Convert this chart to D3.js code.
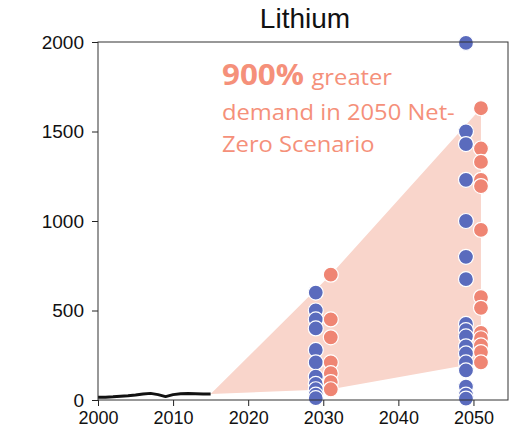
<!DOCTYPE html>
<html>
<head>
<meta charset="utf-8">
<script src="https://cdn.jsdelivr.net/npm/d3@7"></script>
<style>
  body { margin: 0; background: #fff; }
  text { font-family: "Liberation Sans", Arial, sans-serif; }
  text.note { font-family: "Open Sans", sans-serif; }
</style>
</head>
<body>
<svg id="chart" width="512" height="432"></svg>
<script>
// Historical lithium demand (2000–2015)
const historyYears = [2000, 2001, 2002, 2003, 2004, 2005, 2006, 2007, 2008, 2009, 2010, 2011, 2012, 2013, 2014, 2015];
const historyDemand = [15, 16, 18, 21, 24, 28, 33, 37, 30, 19, 30, 35, 37, 35, 33, 33];

// Scenario projections: blue = other scenarios, red = Net-Zero scenarios
const projectionYears = [2030, 2050];
const otherScenarios2030 = [600, 500, 450, 400, 280, 210, 130, 90, 60, 30, 10];
const otherScenarios2050 = [1995, 1500, 1430, 1230, 1000, 800, 675, 425, 390, 355, 300, 260, 210, 165, 75, 30, 8];
const netZero2030 = [700, 450, 350, 210, 150, 100, 60];
const netZero2050 = [1630, 1405, 1330, 1230, 1195, 950, 575, 515, 375, 345, 305, 268, 210];

const xTicks = [2000, 2010, 2020, 2030, 2040, 2050];
const yTicks = [0, 500, 1000, 1500, 2000];

const blue = "#5a6bbd";
const red = "#ef8573";
const shade = "#f9d5cb";
const noteColor = "#f5907a";

const svg = d3.select("#chart");
const plot = { left: 98, right: 508, top: 42, bottom: 400 };

const x = d3.scaleLinear().domain([2000, 2054.6]).range([plot.left, plot.right]);
const y = d3.scaleLinear().domain([0, 2000]).range([plot.bottom, plot.top]);

// Net-Zero range band, from the last historical value to the scenario spread
const lastYear = historyYears[historyYears.length - 1];
const lastValue = historyDemand[historyDemand.length - 1];
const band = [
  { year: lastYear, lo: lastValue, hi: lastValue },
  { year: projectionYears[0] + 1, lo: d3.min(netZero2030), hi: d3.max(netZero2030) },
  { year: projectionYears[1] + 1, lo: d3.min(netZero2050), hi: d3.max(netZero2050) }
];
svg.append("path")
  .datum(band)
  .attr("fill", shade)
  .attr("d", d3.area()
    .x(d => x(d.year))
    .y0(d => y(d.lo))
    .y1(d => y(d.hi)));

// Historical line
svg.append("path")
  .datum(historyYears.map((yr, i) => [yr, historyDemand[i]]))
  .attr("fill", "none")
  .attr("stroke", "#111")
  .attr("stroke-width", 3)
  .attr("stroke-linejoin", "round")
  .attr("d", d3.line().x(d => x(d[0])).y(d => y(d[1])));

// Scenario points, offset one year either side of the projection year
function dots(values, year, color) {
  svg.append("g").selectAll("circle")
    .data(values)
    .join("circle")
    .attr("cx", x(year))
    .attr("cy", d => y(d))
    .attr("r", 7.5)
    .attr("fill", color)
    .attr("stroke", "#fff")
    .attr("stroke-width", 1.2);
}
dots(otherScenarios2030, projectionYears[0] - 1, blue);
dots(otherScenarios2050, projectionYears[1] - 1, blue);
dots(netZero2030, projectionYears[0] + 1, red);
dots(netZero2050, projectionYears[1] + 1, red);

// Axes
const xAxis = svg.append("g")
  .attr("transform", `translate(0,${plot.bottom})`)
  .call(d3.axisBottom(x).tickValues(xTicks).tickFormat(d3.format("d")).tickSize(6).tickSizeOuter(0).tickPadding(5));
const yAxis = svg.append("g")
  .attr("transform", `translate(${plot.left},0)`)
  .call(d3.axisLeft(y).tickValues(yTicks).tickFormat(d3.format("d")).tickSize(6).tickSizeOuter(0).tickPadding(8));
[xAxis, yAxis].forEach(g => {
  g.select(".domain").remove();
  g.selectAll("line").attr("stroke", "#222");
  g.selectAll("text").attr("fill", "#111")
    .style("font-family", "'Liberation Sans', Arial, sans-serif");
});
xAxis.selectAll("text").attr("font-size", 18);
yAxis.selectAll("text").attr("font-size", 19);

// Frame
svg.append("rect")
  .attr("x", plot.left).attr("y", plot.top)
  .attr("width", plot.right - plot.left).attr("height", plot.bottom - plot.top)
  .attr("fill", "none").attr("stroke", "#333").attr("stroke-width", 1);

// Title
svg.append("text")
  .attr("x", 305).attr("y", 28)
  .attr("text-anchor", "middle")
  .attr("font-size", 28)
  .attr("fill", "#111")
  .text("Lithium");

// Annotation, slightly widened from its left edge
const noteX = 222;
const note = svg.append("g")
  .attr("fill", noteColor)
  .attr("transform", `translate(${noteX},0) scale(1.08,1)`);
const line1 = note.append("text").attr("class", "note").attr("x", 0).attr("y", 85);
line1.append("tspan").attr("font-weight", "bold").attr("font-size", 29).text("900%");
line1.append("tspan").attr("font-size", 22).attr("dx", 7).text("greater");
note.append("text").attr("class", "note").attr("x", 0).attr("y", 120).attr("font-size", 22).text("demand in 2050 Net-");
note.append("text").attr("class", "note").attr("x", 0).attr("y", 152).attr("font-size", 22).text("Zero Scenario");
</script>
</body>
</html>
